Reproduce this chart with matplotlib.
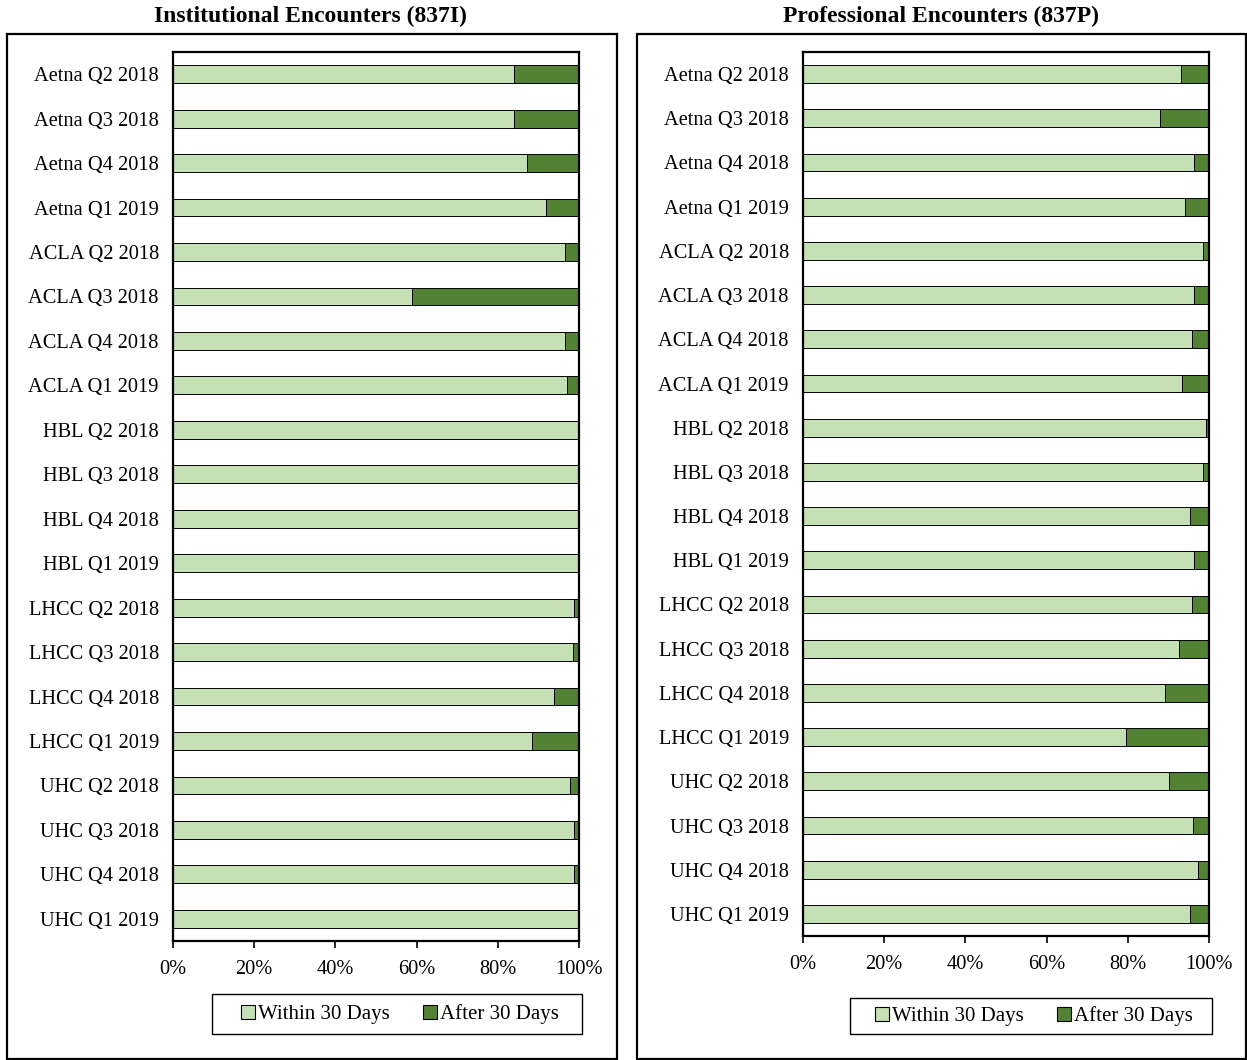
import matplotlib
matplotlib.use("Agg")
import matplotlib.pyplot as plt
from matplotlib.patches import Rectangle, Patch
from matplotlib.ticker import FuncFormatter

categories = ["Aetna Q2 2018", "Aetna Q3 2018", "Aetna Q4 2018", "Aetna Q1 2019",
              "ACLA Q2 2018", "ACLA Q3 2018", "ACLA Q4 2018", "ACLA Q1 2019",
              "HBL Q2 2018", "HBL Q3 2018", "HBL Q4 2018", "HBL Q1 2019",
              "LHCC Q2 2018", "LHCC Q3 2018", "LHCC Q4 2018", "LHCC Q1 2019",
              "UHC Q2 2018", "UHC Q3 2018", "UHC Q4 2018", "UHC Q1 2019"]

inst_within = [0.840, 0.840, 0.871, 0.919, 0.966, 0.589, 0.966, 0.970,
               1.000, 1.000, 1.000, 1.000, 0.986, 0.984, 0.939, 0.884,
               0.976, 0.986, 0.986, 0.996]
prof_within = [0.930, 0.878, 0.963, 0.940, 0.984, 0.963, 0.957, 0.932,
               0.991, 0.984, 0.952, 0.963, 0.957, 0.925, 0.892, 0.796,
               0.902, 0.960, 0.973, 0.952]

titles = ["Institutional Encounters (837I)", "Professional Encounters (837P)"]
series_names = ["Within 30 Days", "After 30 Days"]
xticks = [0, 0.2, 0.4, 0.6, 0.8, 1.0]

C_LIGHT = "#C5E0B4"
C_DARK = "#548235"

plt.rcParams['font.family'] = ['Liberation Serif', 'DejaVu Serif']

W, H = 1247, 1060
fig = plt.figure(figsize=(W / 100, H / 100), dpi=100)

def fx(px):
    return px / W

def fy(py):
    return 1 - py / H

panels = [
    dict(box=(7, 34, 617, 1059), ax=(172.7, 52, 579.3, 941), title_x=310,
         leg=(212, 994, 582, 1034), data=inst_within),
    dict(box=(637, 34, 1246, 1059), ax=(802.7, 52, 1209.3, 936), title_x=941,
         leg=(850, 998, 1212, 1034), data=prof_within),
]

for i, p in enumerate(panels):
    bx0, by0, bx1, by1 = p["box"]
    fig.patches.append(Rectangle((fx(bx0), fy(by1)), fx(bx1 - bx0), (by1 - by0) / H,
                                 transform=fig.transFigure, fill=False,
                                 edgecolor="black", linewidth=1.6))
    fig.text(fx(p["title_x"]), fy(16), titles[i], ha="center", va="center",
             fontsize=17, fontweight="bold")

    ax0, ay0, ax1, ay1 = p["ax"]
    ax = fig.add_axes([fx(ax0), fy(ay1), fx(ax1 - ax0), (ay1 - ay0) / H])
    within = p["data"]
    after = [1 - v for v in within]
    y = list(range(len(categories)))
    ax.barh(y, within, height=0.4, color=C_LIGHT, edgecolor="black", linewidth=0.7)
    ax.barh(y, after, left=within, height=0.4, color=C_DARK, edgecolor="black", linewidth=0.7)
    ax.set_ylim(len(categories) - 0.5, -0.5)
    ax.set_xlim(0, 1)
    ax.set_yticks(y)
    ax.set_yticklabels(categories, fontsize=14.7)
    ax.tick_params(axis="y", length=0, pad=10)
    ax.set_xticks(xticks)
    ax.xaxis.set_major_formatter(FuncFormatter(lambda v, _: f"{v*100:.0f}%"))
    ax.tick_params(axis="x", direction="out", length=5, width=1.2, labelsize=14.7, pad=9)
    for s in ax.spines.values():
        s.set_color("black")
        s.set_linewidth(1.6)

    lx0, ly0, lx1, ly1 = p["leg"]
    fig.patches.append(Rectangle((fx(lx0), fy(ly1)), fx(lx1 - lx0), (ly1 - ly0) / H,
                                 transform=fig.transFigure, fill=False,
                                 edgecolor="black", linewidth=1.0))
    handles = [Patch(facecolor=C_LIGHT, edgecolor="black", linewidth=0.8),
               Patch(facecolor=C_DARK, edgecolor="black", linewidth=0.8)]
    fig.legend(handles, series_names, loc="center",
               bbox_to_anchor=(fx((lx0 + lx1) / 2 + 3), fy((ly0 + ly1) / 2)),
               ncol=2, frameon=False, fontsize=15,
               handlelength=0.65, handleheight=0.65, handletextpad=0.15,
               columnspacing=1.6, borderpad=0.0)

fig.savefig("out.png", dpi=100)
